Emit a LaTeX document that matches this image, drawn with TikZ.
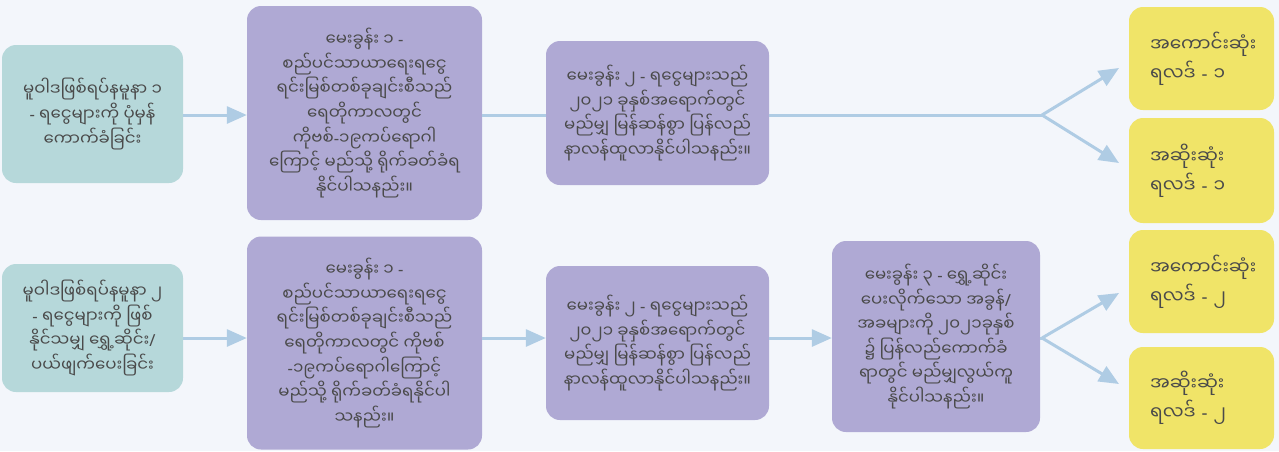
\documentclass[tikz,border=0pt]{standalone}
\usepackage{fontspec}
\newfontfamily\mmfont[Script=Myanmar]{Noto Sans Myanmar UI}
\newfontfamily\latfont{Noto Sans}
\newcommand{\mmdash}{{\latfont -}}
\newcommand{\mmslash}{{\latfont /}}
\usetikzlibrary{arrows.meta}
\definecolor{bgcol}{HTML}{F3F6FB}
\definecolor{tealbox}{HTML}{B6D8DA}
\definecolor{purplebox}{HTML}{AFA9D4}
\definecolor{yellowbox}{HTML}{F0E468}
\definecolor{linkcol}{HTML}{AFCCE4}
\definecolor{txtcol}{HTML}{4A4A4A}

\begin{document}
\begin{tikzpicture}[x=1pt,y=-1pt,
  box/.style={rounded corners=14pt,inner sep=0pt,align=center,text=txtcol,
    font=\mmfont\fontsize{16.6}{24.6}\selectfont},
  policy/.style={box,fill=tealbox},
  question/.style={box,fill=purplebox},
  outcome/.style={box,fill=yellowbox,align=left,text width=103pt,
    minimum width=145pt,font=\mmfont\fontsize{18.5}{29}\selectfont},
  link/.style={draw=linkcol,line width=3pt},
  arr/.style={link,-{Triangle[length=20pt,width=17pt]}}]
\fill[bgcol] (0,0) rectangle (1279,451);
% row 1
\node[policy,minimum width=181pt,minimum height=138pt] (a1) at (92.5,114)
  {မူဝါဒဖြစ်ရပ်နမူနာ ၁\\\mmdash{} ရငွေများကို ပုံမှန်\\ကောက်ခံခြင်း};
\node[question,minimum width=235pt,minimum height=214pt] (b1) at (364.5,113)
  {မေးခွန်း ၁ \mmdash\\စည်ပင်သာယာရေးရငွေ\\ရင်းမြစ်တစ်ခုချင်းစီသည်\\ရေတိုကာလတွင်\\ကိုဗစ်\mmdash၁၉ကပ်ရောဂါ\\ကြောင့် မည်သို့ ရိုက်ခတ်ခံရ\\နိုင်ပါသနည်း။};
\node[question,minimum width=223pt,minimum height=144pt] (c1) at (657.5,113)
  {မေးခွန်း ၂ \mmdash{} ရငွေများသည်\\၂၀၂၁ ခုနှစ်အရောက်တွင်\\မည်မျှ မြန်ဆန်စွာ ပြန်လည်\\နာလန်ထူလာနိုင်ပါသနည်း။};
\node[outcome,minimum height=103pt] (y1a) at (1201.5,58.5)
  {အကောင်းဆုံး\\ရလဒ် \mmdash{} ၁};
\node[outcome,minimum height=105pt] (y1b) at (1201.5,170.5)
  {အဆိုးဆုံး\\ရလဒ် \mmdash{} ၁};
% row 2
\node[policy,minimum width=181pt,minimum height=128pt] (a2) at (92.5,328)
  {မူဝါဒဖြစ်ရပ်နမူနာ ၂\\\mmdash{} ရငွေများကို ဖြစ်\\နိုင်သမျှ ရွှေ့ဆိုင်း\mmslash\\ပယ်ဖျက်ပေးခြင်း};
\node[question,minimum width=235pt,minimum height=213pt] (b2) at (364.5,343)
  {မေးခွန်း ၁ \mmdash\\စည်ပင်သာယာရေးရငွေ\\ရင်းမြစ်တစ်ခုချင်းစီသည်\\ရေတိုကာလတွင် ကိုဗစ်\\\mmdash၁၉ကပ်ရောဂါကြောင့်\\မည်သို့ ရိုက်ခတ်ခံရနိုင်ပါ\\သနည်း။};
\node[question,minimum width=223pt,minimum height=154pt] (c2) at (657.5,343)
  {မေးခွန်း ၂ \mmdash{} ရငွေများသည်\\၂၀၂၁ ခုနှစ်အရောက်တွင်\\မည်မျှ မြန်ဆန်စွာ ပြန်လည်\\နာလန်ထူလာနိုင်ပါသနည်း။};
\node[question,minimum width=208pt,minimum height=191pt] (d2) at (936,336.5)
  {မေးခွန်း ၃ \mmdash{} ရွှေ့ဆိုင်း\\ပေးလိုက်သော အခွန်\mmslash\\အခများကို ၂၀၂၁ခုနှစ်\\၌ ပြန်လည်ကောက်ခံ\\ရာတွင် မည်မျှလွယ်ကူ\\နိုင်ပါသနည်း။};
\node[outcome,minimum height=103pt] (y2a) at (1201.5,281.5)
  {အကောင်းဆုံး\\ရလဒ် \mmdash{} ၂};
\node[outcome,minimum height=102pt] (y2b) at (1201.5,398)
  {အဆိုးဆုံး\\ရလဒ် \mmdash{} ၂};
% split points and arrow ends
\coordinate (s1) at (1042,115);
\coordinate (t1a) at (1119,68);
\coordinate (t1b) at (1119,163);
\coordinate (s2) at (1042,338);
\coordinate (t2a) at (1119,293);
\coordinate (t2b) at (1119,384);
% connectors
\draw[arr] (a1.east |- s1) -- (b1.west |- s1);
\draw[link] (b1.east |- s1) -- (c1.west |- s1);
\draw[link] (c1.east |- s1) -- (s1);
\draw[arr] (s1) -- (t1a);
\draw[arr] (s1) -- (t1b);
\draw[arr] (a2.east |- s2) -- (b2.west |- s2);
\draw[arr] (b2.east |- s2) -- (c2.west |- s2);
\draw[arr] (c2.east |- s2) -- (d2.west |- s2);
\draw[link] (d2.east |- s2) -- (s2);
\draw[arr] (s2) -- (t2a);
\draw[arr] (s2) -- (t2b);
\end{tikzpicture}
\end{document}
